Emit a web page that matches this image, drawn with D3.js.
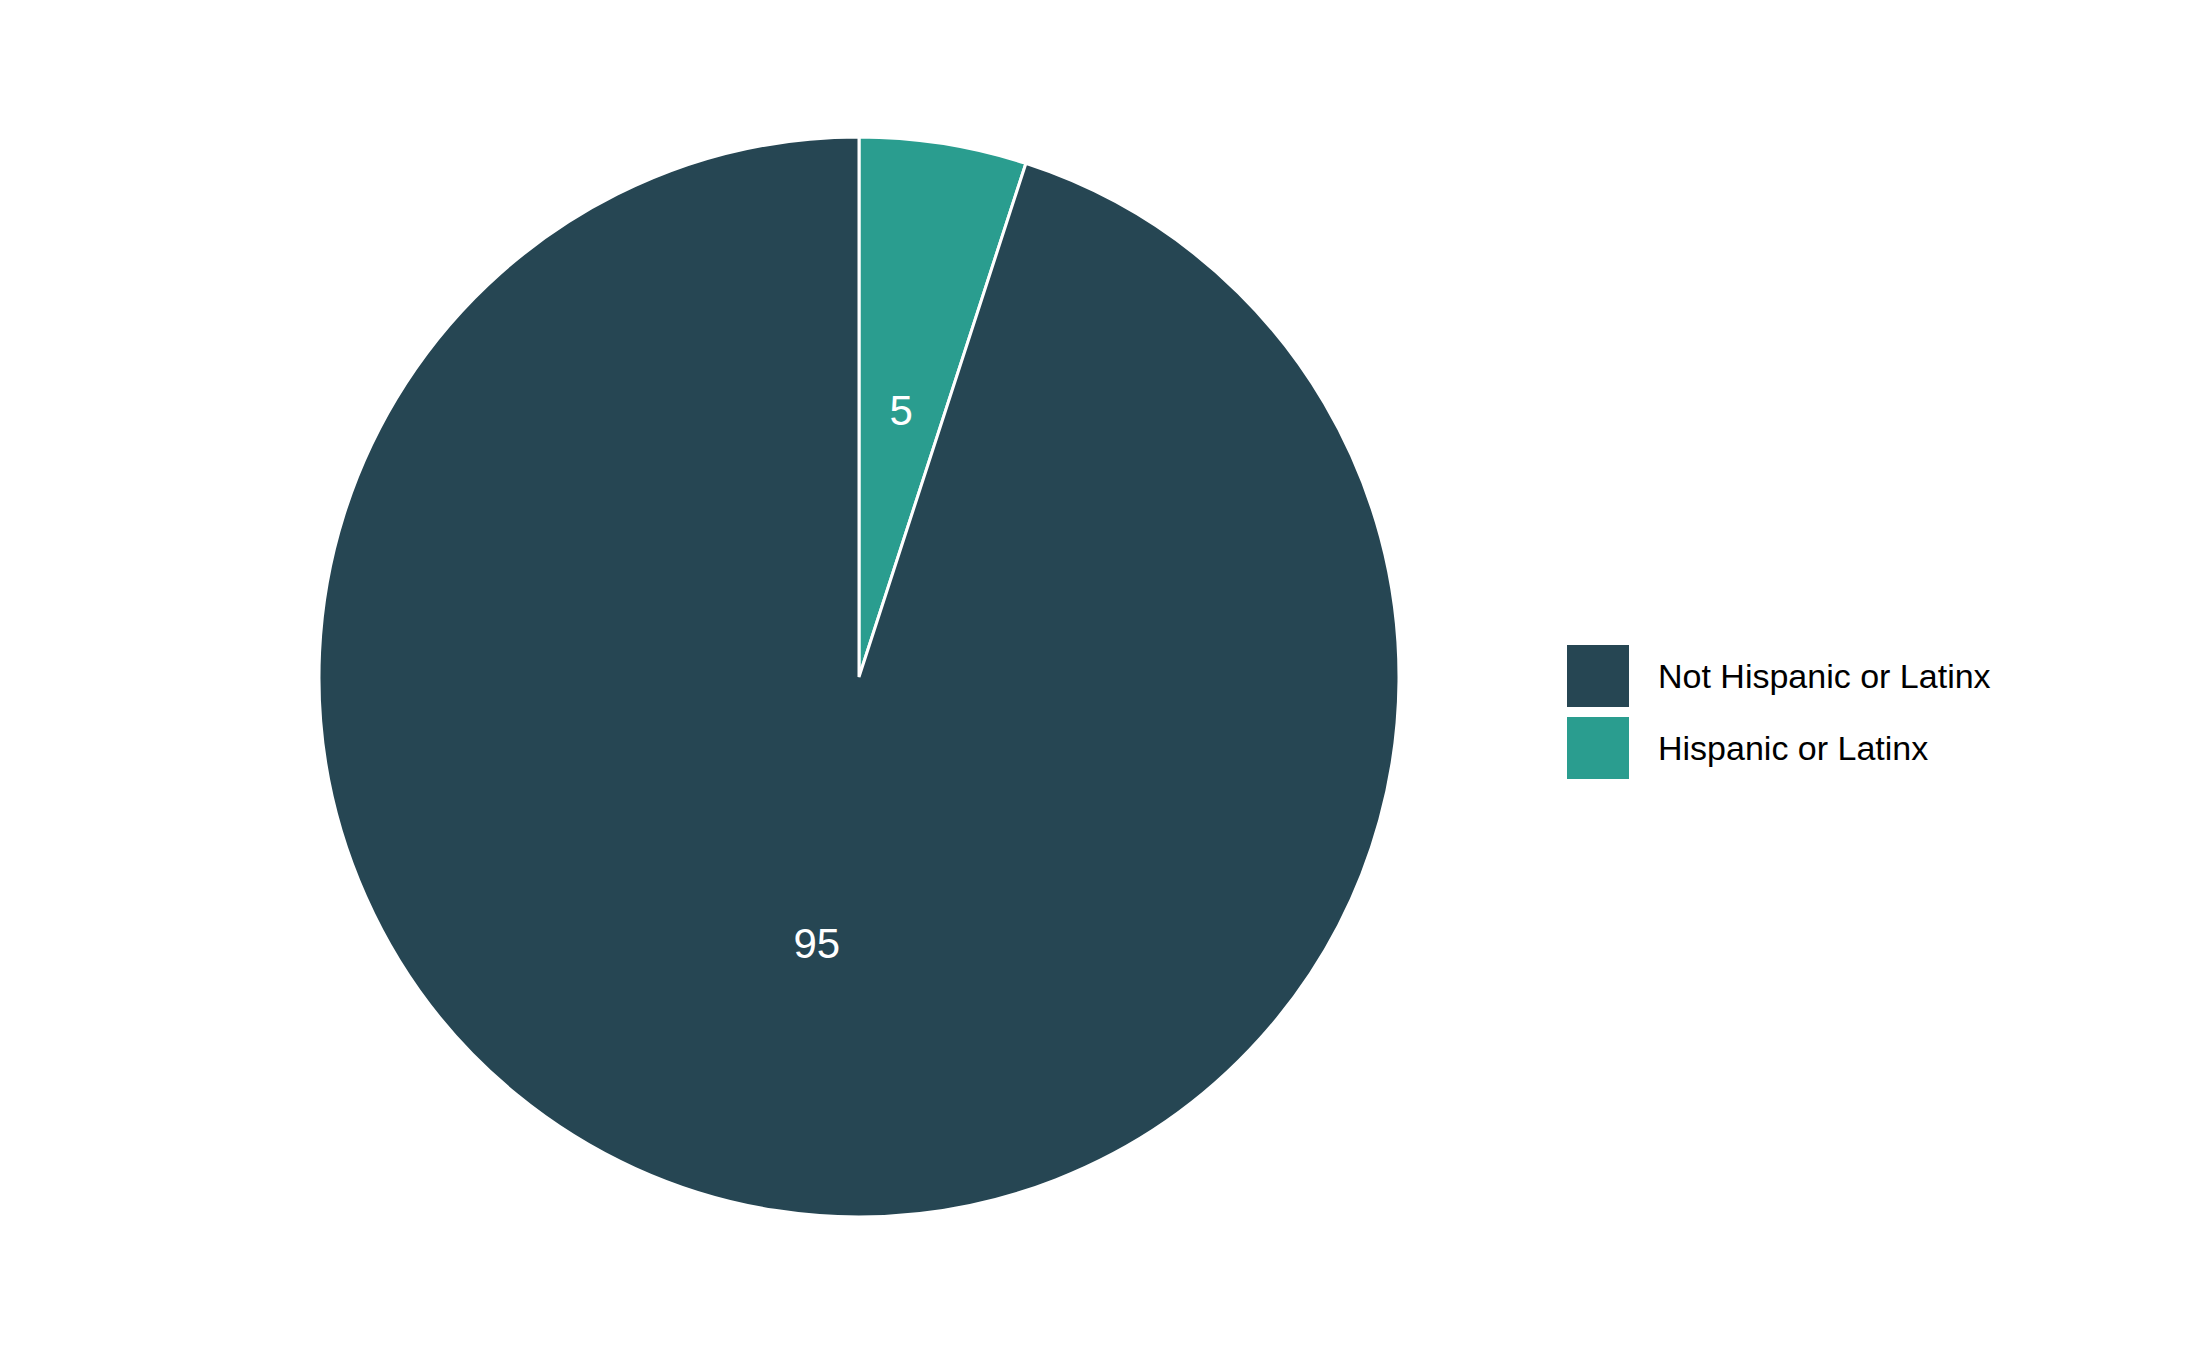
<!DOCTYPE html>
<html>
<head>
<meta charset="utf-8">
<script src="https://cdn.jsdelivr.net/npm/d3@7"></script>
<style>
  body { margin: 0; background: #fff; }
  text { font-family: "Liberation Sans", Arial, sans-serif; }
</style>
</head>
<body>
<svg id="chart" width="2187" height="1350"></svg>
<script>
// data
var categories = ["Hispanic or Latinx", "Not Hispanic or Latinx"];
var values = [5, 95];
var legendOrder = ["Not Hispanic or Latinx", "Hispanic or Latinx"];
var colors = ["#2a9d8f", "#264653"];

var svg = d3.select("#chart"),
    cx = 859, cy = 677, radius = 540;

var color = d3.scaleOrdinal().domain(categories).range(colors);

var pie = d3.pie().sort(null).value(function(d) { return d.value; });
var arc = d3.arc().innerRadius(0).outerRadius(radius);

var data = categories.map(function(c, i) { return {name: c, value: values[i]}; });

var g = svg.append("g").attr("transform", "translate(" + cx + "," + cy + ")");

g.selectAll("path")
    .data(pie(data))
    .enter().append("path")
    .attr("d", arc)
    .attr("fill", function(d) { return color(d.data.name); })
    .attr("stroke", "#fff")
    .attr("stroke-width", 3);

g.selectAll(".lbl")
    .data(pie(data))
    .enter().append("text")
    .attr("class", "lbl")
    .attr("transform", function(d) { return "translate(" + arc.centroid(d) + ")"; })
    .attr("text-anchor", "middle")
    .attr("dy", ".35em")
    .attr("fill", "#fff")
    .style("font-size", "42px")
    .text(function(d) { return d.data.value; });

// legend
var legend = svg.selectAll(".legend")
    .data(legendOrder)
    .enter().append("g")
    .attr("class", "legend")
    .attr("transform", function(d, i) { return "translate(1567," + (645 + i * 72) + ")"; });

legend.append("rect")
    .attr("width", 62)
    .attr("height", 62)
    .attr("fill", color);

legend.append("text")
    .attr("x", 91)
    .attr("y", 31)
    .attr("dy", ".35em")
    .style("font-size", "34px")
    .attr("fill", "#000")
    .text(function(d) { return d; });
</script>
</body>
</html>
